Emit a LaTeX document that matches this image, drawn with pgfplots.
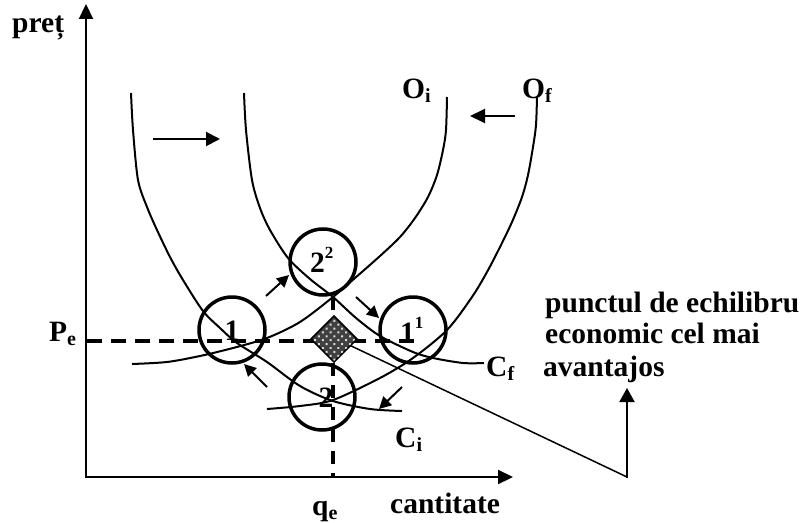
\documentclass[border=0pt]{standalone}
\usepackage{pgfplots}
\pgfplotsset{compat=1.18}
\usepackage{fontspec}
\setmainfont{Liberation Serif}
\usetikzlibrary{arrows.meta,patterns.meta}
\newcommand{\mf}{\fontsize{29.5bp}{33bp}\selectfont\bfseries}
\newcommand{\sub}[1]{\raisebox{-4bp}{\fontsize{20bp}{20bp}\selectfont\bfseries #1}}
\newcommand{\sups}[1]{\raisebox{14bp}{\fontsize{17bp}{17bp}\selectfont\bfseries #1}}
\begin{document}
\begin{tikzpicture}
\begin{axis}[
  width=806bp, height=523bp, scale only axis,
  xmin=0, xmax=806, ymin=0, ymax=523, y dir=reverse,
  hide axis, clip=false,
]
% invisible frame
\addplot[draw=white, opacity=0] coordinates {(0,0) (806,0) (806,523) (0,523) (0,0)};
% axes
\addplot[black, line width=2.2bp, -{Triangle[length=15bp,width=14bp]}] coordinates {(86,477) (86,4)};
\addplot[black, line width=2.2bp, -{Triangle[length=15bp,width=14bp]}] coordinates {(85,477) (513,477)};
% dashed guides
\addplot[black, line width=4bp, dash pattern=on 15bp off 9bp] coordinates {(87,341) (417,341)};
\addplot[black, line width=4bp, dash pattern=on 13bp off 9bp] coordinates {(333,297) (333,477)};
% curves
\addplot[black, line width=2bp, smooth] coordinates {(131,93) (133,130) (138,180) (147,207) (157,230) (170,257) (183,280) (203,311) (220,328) (237,343) (267,362) (300,386) (333,401) (370,409) (402,411)};
\addplot[black, line width=2bp, smooth] coordinates {(244,93) (246,130) (252,180) (260,208) (270,230) (288,258) (310,279) (333,297) (356,318) (380,336) (413,352) (433,358) (463,363) (484,363)};
\addplot[black, line width=2bp, smooth] coordinates {(447,97) (446,130) (443,150) (437,175) (428,197) (415,218) (400,237) (380,256) (355,278) (333,297) (300,322) (267,338) (233,348) (200,356) (167,362) (132,364)};
\addplot[black, line width=2bp, smooth] coordinates {(537,97) (536,125) (533,147) (528,175) (522,197) (512,222) (500,247) (487,272) (472,297) (447,330) (413,358) (380,378) (333,400) (300,406) (267,409)};
% shift arrows
\addplot[black, line width=2bp, -{Triangle[length=14bp,width=14bp]}] coordinates {(153,139) (220,139)};
\addplot[black, line width=2bp, -{Triangle[length=15bp,width=14bp]}] coordinates {(515,116) (470,116)};
% small diagonal arrows
\addplot[black, line width=2bp, -{Triangle[length=12bp,width=12bp]}] coordinates {(266,296) (289,275)};
\addplot[black, line width=2bp, -{Triangle[length=12bp,width=12bp]}] coordinates {(356,297) (379,318)};
\addplot[black, line width=2bp, -{Triangle[length=12bp,width=12bp]}] coordinates {(267,387) (244,364)};
\addplot[black, line width=2bp, -{Triangle[length=12bp,width=12bp]}] coordinates {(402,387) (379,409)};
% pointer line
\addplot[black, line width=1.5bp] coordinates {(345,343) (627,477)};
\addplot[black, line width=2bp, -{Triangle[length=14bp,width=15bp]}] coordinates {(627,478) (627,388)};
% circles
\addplot[only marks, mark=o, mark size=33bp, mark options={line width=3.5bp, black}] coordinates {(232,330) (323,262) (413,330) (322,397)};
% diamond
\addplot[draw=black, line width=1.5bp, fill=black!75] coordinates {(334,316) (357,339) (334,362) (311,339)} -- cycle;
\addplot[draw=none, pattern={Dots[distance=5.5bp, radius=1.4bp, angle=45]}, pattern color=white!85!black] coordinates {(334,317) (356,339) (334,361) (312,339)} -- cycle;
% numbers in circles
\node[anchor=base] at (axis cs:232,340) {\mf 1};
\node[anchor=base west, inner sep=0pt] at (axis cs:310,272) {\mf 2\sups{2}};
\node[anchor=base west, inner sep=0pt] at (axis cs:400,342) {\mf 1\sups{1}};
\node[anchor=base] at (axis cs:326,407) {\mf 2};
% labels
\node[anchor=base west, inner sep=0pt] at (axis cs:12,33) {\mf preț};
\node[anchor=base west, inner sep=0pt] at (axis cs:49,341) {\mf P\sub{e}};
\node[anchor=base west, inner sep=0pt] at (axis cs:312,515) {\mf q\sub{e}};
\node[anchor=base west, inner sep=0pt] at (axis cs:390,513) {\mf cantitate};
\node[anchor=base west, inner sep=0pt] at (axis cs:402,99) {\mf O\sub{i}};
\node[anchor=base west, inner sep=0pt] at (axis cs:522,99) {\mf O\sub{f}};
\node[anchor=base west, inner sep=0pt] at (axis cs:486,376) {\mf C\sub{f}};
\node[anchor=base west, inner sep=0pt] at (axis cs:395,447) {\mf C\sub{i}};
\node[anchor=base west, inner sep=0pt] at (axis cs:545,312) {\mf punctul de echilibru};
\node[anchor=base west, inner sep=0pt] at (axis cs:545,343) {\mf economic cel mai};
\node[anchor=base west, inner sep=0pt] at (axis cs:543,376) {\mf avantajos};
\end{axis}
\pgfresetboundingbox
\path (current axis.south west) rectangle (current axis.north east);
\end{tikzpicture}
\end{document}
